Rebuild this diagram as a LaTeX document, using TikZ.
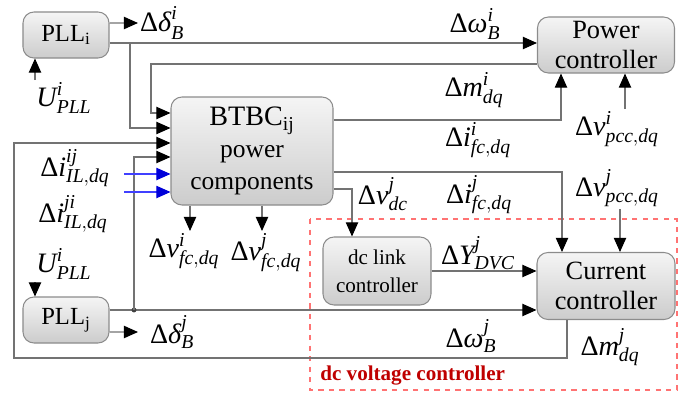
\documentclass[tikz,border=0pt]{standalone}
\usepackage{fontspec}
\setmainfont{Liberation Serif}
\usetikzlibrary{arrows.meta}

% signal label: base symbol, superscript, subscript
\newcommand{\dsig}[3]{$\hbox{#1}^{\mathit{#2}}_{\mathit{#3}}$}

\tikzset{
  block/.style={draw=black!45, line width=0.6pt, rounded corners=2.2mm,
                top color=black!4, bottom color=black!20,
                align=center, inner sep=1pt},
  wire/.style={draw=black!55, line width=0.6pt},
  arr/.style={wire, -{Triangle[length=8pt, width=7pt, black]}},
  barr/.style={draw=blue!75, line width=0.6pt,
               -{Triangle[length=8pt, width=7pt, blue!85!black]}},
  lab/.style={font=\fontsize{16}{18}\selectfont, inner sep=1pt},
}

\begin{document}
\begin{tikzpicture}[x=0.2mm, y=-0.2mm]
\useasboundingbox (0,0) rectangle (695,393);

% --- dc voltage controller frame ------------------------------------------
\draw[red!55, dashed, line width=0.6pt] (310,219) rectangle (677,390);
\node[font=\bfseries\fontsize{12}{14}\selectfont, text=red!75!black,
      anchor=west, inner sep=0pt] (dvc) at (320,376) {dc voltage controller};

% --- blocks ---------------------------------------------------------------
\node[block, minimum width=17.2mm, minimum height=9.2mm,
      font=\fontsize{14}{16}\selectfont] (PLLi) at (66,35) {PLL\textsubscript{i}};
\node[block, minimum width=17.2mm, minimum height=9.2mm,
      font=\fontsize{14}{16}\selectfont] (PLLj) at (66,320) {PLL\textsubscript{j}};
\node[block, minimum width=32.4mm, minimum height=21.6mm,
      font=\fontsize{14.5}{18}\selectfont] (BT) at (252,151)
  {{\fontsize{16}{18}\selectfont BTBC\textsubscript{ij}}\\power\\components};
\node[block, minimum width=27.4mm, minimum height=11.2mm,
      font=\fontsize{15}{17}\selectfont] (Pow) at (606,45) {Power\\controller};
\node[block, minimum width=27.6mm, minimum height=13.4mm,
      font=\fontsize{15}{17}\selectfont] (Cur) at (606,286) {Current\\controller};
\node[block, minimum width=21.6mm, minimum height=13.6mm,
      font=\fontsize{12}{16}\selectfont] (DC) at (377,271) {dc link\\controller};

% --- labels ---------------------------------------------------------------
\node[lab, anchor=west] (dBi) at (138,23) {\dsig{Δ\itshape δ}{i}{B}};
\node[lab, anchor=west] (dBj) at (148,332) {\dsig{Δ\itshape δ}{j}{B}};
\node[lab] (wBi) at (475,24) {\dsig{Δ\itshape ω}{i}{B}};
\node[lab] (wBj) at (471,336) {\dsig{Δ\itshape ω}{j}{B}};
\node[lab] (mil) at (474,90) {\dsig{Δ\itshape m}{i}{dq}};
\node[lab] (mjl) at (610,347) {\dsig{Δ\itshape m}{j}{dq}};
\node[lab] (fil) at (478,140) {\dsig{Δ\itshape i}{i}{fc,dq}};
\node[lab] (fjl) at (479,195) {\dsig{Δ\itshape i}{j}{fc,dq}};
\node[lab] (vdc) at (383,194) {\dsig{Δ\itshape v}{j}{dc}};
\node[lab] (ydv) at (478,253) {\dsig{Δ\itshape Y}{j}{DVC}};
\node[lab, anchor=north] (vpi) at (617,109) {\dsig{Δ\itshape v}{i}{pcc,dq}};
\node[lab, anchor=north] (vpj) at (617,167) {\dsig{Δ\itshape v}{j}{pcc,dq}};
\node[lab, anchor=north] (Ui) at (64,80) {\dsig{\itshape U}{i}{PLL}};
\node[lab, anchor=south] (Uj) at (64,282) {\dsig{\itshape U}{i}{PLL}};
\node[lab] (iij) at (75,168) {\dsig{Δ\itshape i}{ij}{IL,dq}};
\node[lab] (iji) at (73,214) {\dsig{Δ\itshape i}{ji}{IL,dq}};
\node[lab, anchor=north] (vfi) at (184,231) {\dsig{Δ\itshape v}{i}{fc,dq}};
\node[lab, anchor=north] (vfj) at (266,231) {\dsig{Δ\itshape v}{j}{fc,dq}};

% --- helper coordinates ---------------------------------------------------
\coordinate (xa) at (130,0);
\coordinate (xb) at (151,0);
\coordinate (xc) at (134,0);
\coordinate (lp) at (14,358);
\coordinate (wi) at ([yshift=-1.6mm]PLLi.east);
\coordinate (wj) at ([yshift=2mm]PLLj.east);
\coordinate (mi) at ([yshift=-3.8mm]Pow.west);
\coordinate (pi) at ([xshift=3.8mm]Pow.south);
\coordinate (pj) at ([xshift=2.8mm]Cur.north);
\coordinate (ui) at ([xshift=-6.2mm]PLLi.south);
\coordinate (uj) at ([xshift=-6.2mm]PLLj.north);
\coordinate (va) at ([xshift=-12.4mm]BT.south);
\coordinate (vb) at ([xshift=2mm]BT.south);

% --- PLL i ----------------------------------------------------------------
\draw[arr] ([yshift=2.4mm]PLLi.east) -- (dBi.west);
\draw[arr] (wi) -- (wi -| Pow.west);
\draw[arr] (wi -| xa) |- ([yshift=4.6mm]BT.west);
\draw[arr] (ui |- Ui.north) -- (ui);

% --- power controller -----------------------------------------------------
\draw[arr] (mi) -- (mi -| xb) |- ([yshift=7.6mm]BT.west);
\draw[arr] ([yshift=6.2mm]BT.east) -| ([xshift=-9mm]Pow.south);
\draw[arr] (pi |- vpi.north) -- (pi);

% --- current controller ---------------------------------------------------
\draw[arr] ([yshift=-4.2mm]BT.east) -| ([xshift=-8.8mm]Cur.north);
\draw[arr] (pj |- vpj.south) -- (pj);
\draw[arr] ([yshift=-7.6mm]BT.east) -| ([xshift=-5mm]DC.north);
\draw[arr] (DC.east) -- (DC.east -| Cur.west);
\draw[arr] ([xshift=-7.8mm]Cur.south) |- (lp) |- ([yshift=1.6mm]BT.west);

% --- PLL j ----------------------------------------------------------------
\draw[arr] (wj) -- (wj -| Cur.west);
\fill[black!75] (wj -| xc) circle (1.4pt);
\draw[arr] (wj -| xc) |- ([yshift=-1.2mm]BT.west);
\draw[arr] ([yshift=-2.4mm]PLLj.east) -- ([xshift=-2mm]dBj.west);
\draw[arr] (uj |- Uj.south) -- (uj);

% --- BTBC inputs / outputs ------------------------------------------------
\draw[barr] ([xshift=-9.2mm, yshift=-4.6mm]BT.west) -- ([yshift=-4.6mm]BT.west);
\draw[barr] ([xshift=-9.2mm, yshift=-8.2mm]BT.west) -- ([yshift=-8.2mm]BT.west);
\draw[arr] (va) -- (va |- vfi.north);
\draw[arr] (vb) -- (vb |- vfj.north);

\end{tikzpicture}
\end{document}
